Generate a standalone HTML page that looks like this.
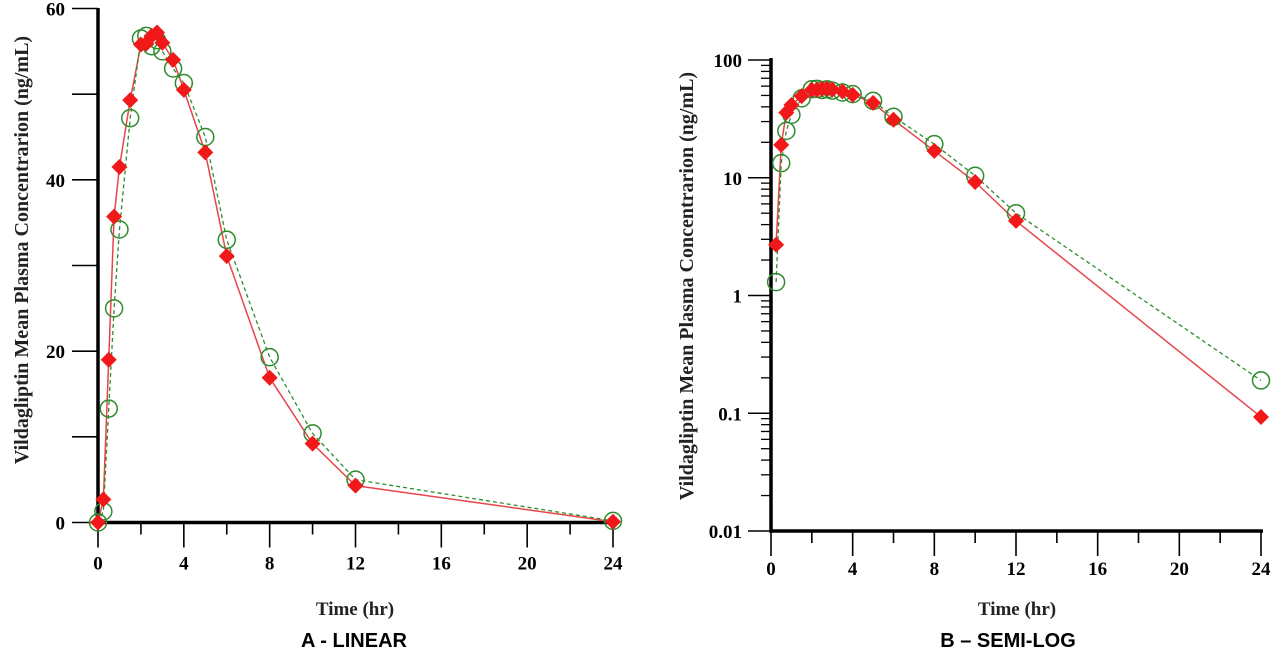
<!DOCTYPE html>
<html><head><meta charset="utf-8"><style>
body{margin:0;background:#fff;width:1280px;height:650px;overflow:hidden}
svg text{font-family:"Liberation Serif",serif;font-weight:bold}
</style></head><body>
<svg id="s" width="1280" height="650"></svg>
<script>
const times=[0,0.25,0.5,0.75,1,1.5,2,2.25,2.5,2.75,3,3.5,4,5,6,8,10,12,24];
const redVals=[0,2.7,19,35.7,41.5,49.3,55.8,55.9,56.8,57.2,56,54,50.5,43.2,31.1,16.9,9.2,4.3,0.093];
const greenVals=[0,1.3,13.3,25,34.2,47.2,56.5,56.8,55.6,56.3,55,53,51.3,45,33,19.3,10.4,5,0.19];
const xTicks=[0,4,8,12,16,20,24];
const yTicksLin=[0,20,40,60];
const yTicksLog=[0.01,0.1,1,10,100];
const NS="http://www.w3.org/2000/svg";
const svg=document.getElementById('s');
function el(t,a,p){const e=document.createElementNS(NS,t);for(const k in a)e.setAttribute(k,a[k]);(p||svg).appendChild(e);return e;}
function txt(s,a,p){const e=el('text',a,p);e.textContent=s;return e;}

function panel(cfg){
  const g=el('g',{});
  
  
  const X=t=>cfg.x0+(cfg.x1-cfg.x0)*t/24;
  const Y=cfg.Y;
  const ax=el('path',{d:`M${cfg.x0},${cfg.yTop} V${cfg.yBot} H${cfg.x1+2}`,stroke:'#000','stroke-width':3.5,fill:'none'},g);
  
  for(let t=0;t<=24;t+=2){const len=(t%4===0)?25:12;el('line',{x1:X(t),x2:X(t),y1:cfg.yBot,y2:cfg.yBot+len,stroke:'#000','stroke-width':1.6},g);}
  xTicks.forEach(t=>{const e=txt(t,{x:X(t),y:cfg.yBot+cfg.xlOff,'text-anchor':'middle','font-size':19},g);});
  cfg.yTickFn(g,X,Y);
  const pts=(vals)=>times.map((t,i)=>[X(t),Y(vals[i])]).filter(p=>isFinite(p[1]));
  const r=pts(redVals),gr=pts(greenVals);
  const lr=el('polyline',{points:r.map(p=>p.join(',')).join(' '),fill:'none',stroke:'#e8454a','stroke-width':1.5},g);
  
  const lg=el('polyline',{points:gr.map(p=>p.join(',')).join(' '),fill:'none',stroke:'#2e8b2e','stroke-width':1.3,'stroke-dasharray':'4,3'},g);
  
  gr.forEach(p=>{const c=el('circle',{cx:p[0],cy:p[1],r:8.5,fill:'none',stroke:'#2e8b2e','stroke-width':1.5},g);});
  r.forEach(p=>{const d=el('path',{d:`M${p[0]},${p[1]-8} L${p[0]+8},${p[1]} L${p[0]},${p[1]+8} L${p[0]-8},${p[1]} Z`,fill:'#f01818'},g);});
  const xt=txt('Time (hr)',{x:cfg.xtx,y:615,'text-anchor':'middle','font-size':19,fill:'#222'},g);
  
  const yt=txt('Vildagliptin Mean Plasma Concentrarion (ng/mL)',{transform:`translate(${cfg.ytx},${cfg.yty}) rotate(-90)`,'text-anchor':'middle','font-size':20,fill:'#222'},g);
  
  const cap=txt(cfg.caption,{x:cfg.capx,y:647,'text-anchor':'middle','font-size':20,style:'font-family:"Liberation Sans",sans-serif'},g);
  
}
const linY=v=>522.5-v*514/60;
panel({name:'linear-chart',x0:98,x1:613,yTop:8,yBot:522.5,Y:linY,ytx:28,yty:250,xtx:355,xlOff:47,capx:354,caption:'A - LINEAR',
 yTickFn:(g)=>{for(let v=0;v<=60;v+=10)el('line',{x1:72,x2:98,y1:linY(v),y2:linY(v),stroke:'#000','stroke-width':1.6},g);
  yTicksLin.forEach(v=>{const e=txt(v,{x:65,y:linY(v)+7,'text-anchor':'end','font-size':19},g);});}});
const logY=v=>v>0?60+(2-Math.log10(v))*117.75:NaN;
panel({name:'semilog-chart',x0:771,x1:1261,yTop:58,yBot:531,Y:logY,ytx:693,yty:286,xtx:1017,xlOff:44,capx:1008,caption:'B – SEMI-LOG',
 yTickFn:(g)=>{yTicksLog.forEach(v=>{el('line',{x1:748,x2:771,y1:logY(v),y2:logY(v),stroke:'#000','stroke-width':1.6},g);
   const e=txt(v,{x:742,y:logY(v)+7,'text-anchor':'end','font-size':19},g);
   if(v<100)for(let m=2;m<=9;m++)el('line',{x1:761,x2:771,y1:logY(v*m),y2:logY(v*m),stroke:'#000','stroke-width':1.3},g);});}});
</script>
</body></html>
